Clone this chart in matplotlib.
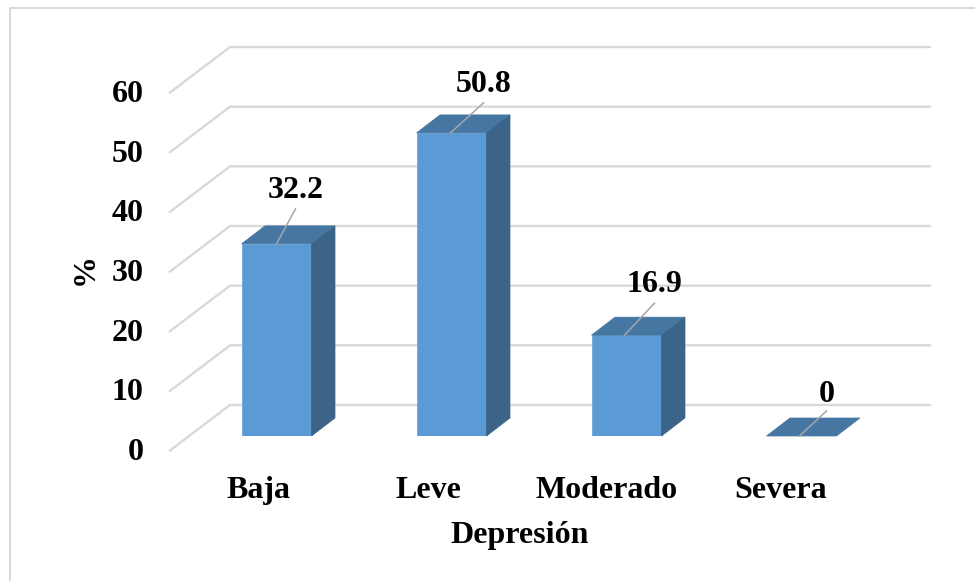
import matplotlib
matplotlib.use("Agg")
import matplotlib.pyplot as plt
from matplotlib.lines import Line2D
from matplotlib.patches import Polygon
from matplotlib.transforms import Affine2D

categorias = ["Baja", "Leve", "Moderado", "Severa"]
valores = [32.2, 50.8, 16.9, 0]
ticks_y = [0, 10, 20, 30, 40, 50, 60]

# colores y estilo
FRENTE = "#5B9BD5"
TECHO = "#4677A3"
LADO = "#3B6488"
GRID = "#D9D9D9"
GUIA = "#A6A6A6"
FUENTE = 23

# desplazamiento de las etiquetas respecto al techo de cada barra, en pixeles
guia_dx = [19, 33, 30, 27]
guia_dy = [35, 30, 32, 25]
guia_x0 = [0, -1, -2, -2]
texto_dy = [18, 18, 19, 17]
cat_dx = [-18.5, -23, -20, -21]

plt.rcParams["font.family"] = ["Liberation Serif", "DejaVu Serif"]
plt.rcParams["font.weight"] = "bold"

W, H = 975, 581
fig = plt.figure(figsize=(W / 100, H / 100), dpi=100)

# marco exterior: solo se ve arriba y a la izquierda
fig.add_artist(Line2D([10 / W, 10 / W, 1], [0, 1 - 8 / H, 1 - 8 / H], transform=fig.transFigure,
                      color=GRID, lw=1.4))

ax = fig.add_axes([189 / W, (H - 436) / H, 700 / W, 358 / H])
ax.set_xlim(-0.5, 3.5)
ax.set_ylim(0, 60)
ax.patch.set_alpha(0)
for s in ax.spines.values():
    s.set_visible(False)

px_x = 4 / 700
px_y = 60 / 358


def profundidad(dx, dy):
    return dx * px_x, dy * px_y


# rejilla: pared del fondo y linea lateral hacia el frente
fx, fy = profundidad(-19, -14.5)
bx, by = profundidad(41, 31)
for t in ticks_y:
    ax.plot([-0.5 + fx, -0.5 + bx, 3.5 + bx], [t + fy, t + by, t + by], color=GRID, lw=1.7,
            clip_on=False, zorder=1, solid_joinstyle="miter")

# barras con su cara superior y lateral
ancho = 0.4
dx, dy = profundidad(23.5, 18)
x_pos = range(len(categorias))
ax.bar(x_pos, valores, width=ancho, color=FRENTE, edgecolor="#6FA8DC", lw=0.6, zorder=3)
for i, v in zip(x_pos, valores):
    izq, der = i - ancho / 2, i + ancho / 2
    ax.add_patch(Polygon([(izq, v), (der, v), (der + dx, v + dy), (izq + dx, v + dy)],
                         fc=TECHO, ec=TECHO, lw=0.5, zorder=3, clip_on=False))
    if v > 0:
        ax.add_patch(Polygon([(der, 0), (der + dx, dy), (der + dx, v + dy), (der, v)],
                             fc=LADO, ec=LADO, lw=0.5, zorder=3, clip_on=False))

# etiquetas de datos con linea guia
for i, v in zip(x_pos, valores):
    x0 = i + guia_x0[i] * px_x
    x1 = x0 + guia_dx[i] * px_x
    y1 = v + guia_dy[i] * px_y
    ax.plot([x0, x1], [v, y1], color=GUIA, lw=1.1, zorder=4, clip_on=False)
    ax.text(x1, y1 + texto_dy[i] * px_y, str(v), ha="center", va="center", fontsize=FUENTE,
            fontweight="bold", color="black", zorder=5, clip_on=False)

# ejes
ax.set_yticks(ticks_y)
ax.set_xticks(list(x_pos))
ax.set_xticklabels(categorias)
ax.tick_params(axis="both", length=0, labelsize=FUENTE)
ax.tick_params(axis="y", pad=32.5)
ax.tick_params(axis="x", pad=28.8)
for lbl in ax.get_yticklabels():
    lbl.set_transform(lbl.get_transform() + Affine2D().translate(0, -13))
for lbl, d in zip(ax.get_xticklabels(), cat_dx):
    lbl.set_transform(lbl.get_transform() + Affine2D().translate(d, 0))

fig.text(520 / W, 1 - 536 / H, "Depresión", ha="center", va="center", fontsize=FUENTE, fontweight="bold")
fig.text(85 / W, 1 - 269 / H, "%", ha="center", va="center", rotation=90, fontsize=FUENTE, fontweight="bold")

fig.savefig("out.png", dpi=100)
